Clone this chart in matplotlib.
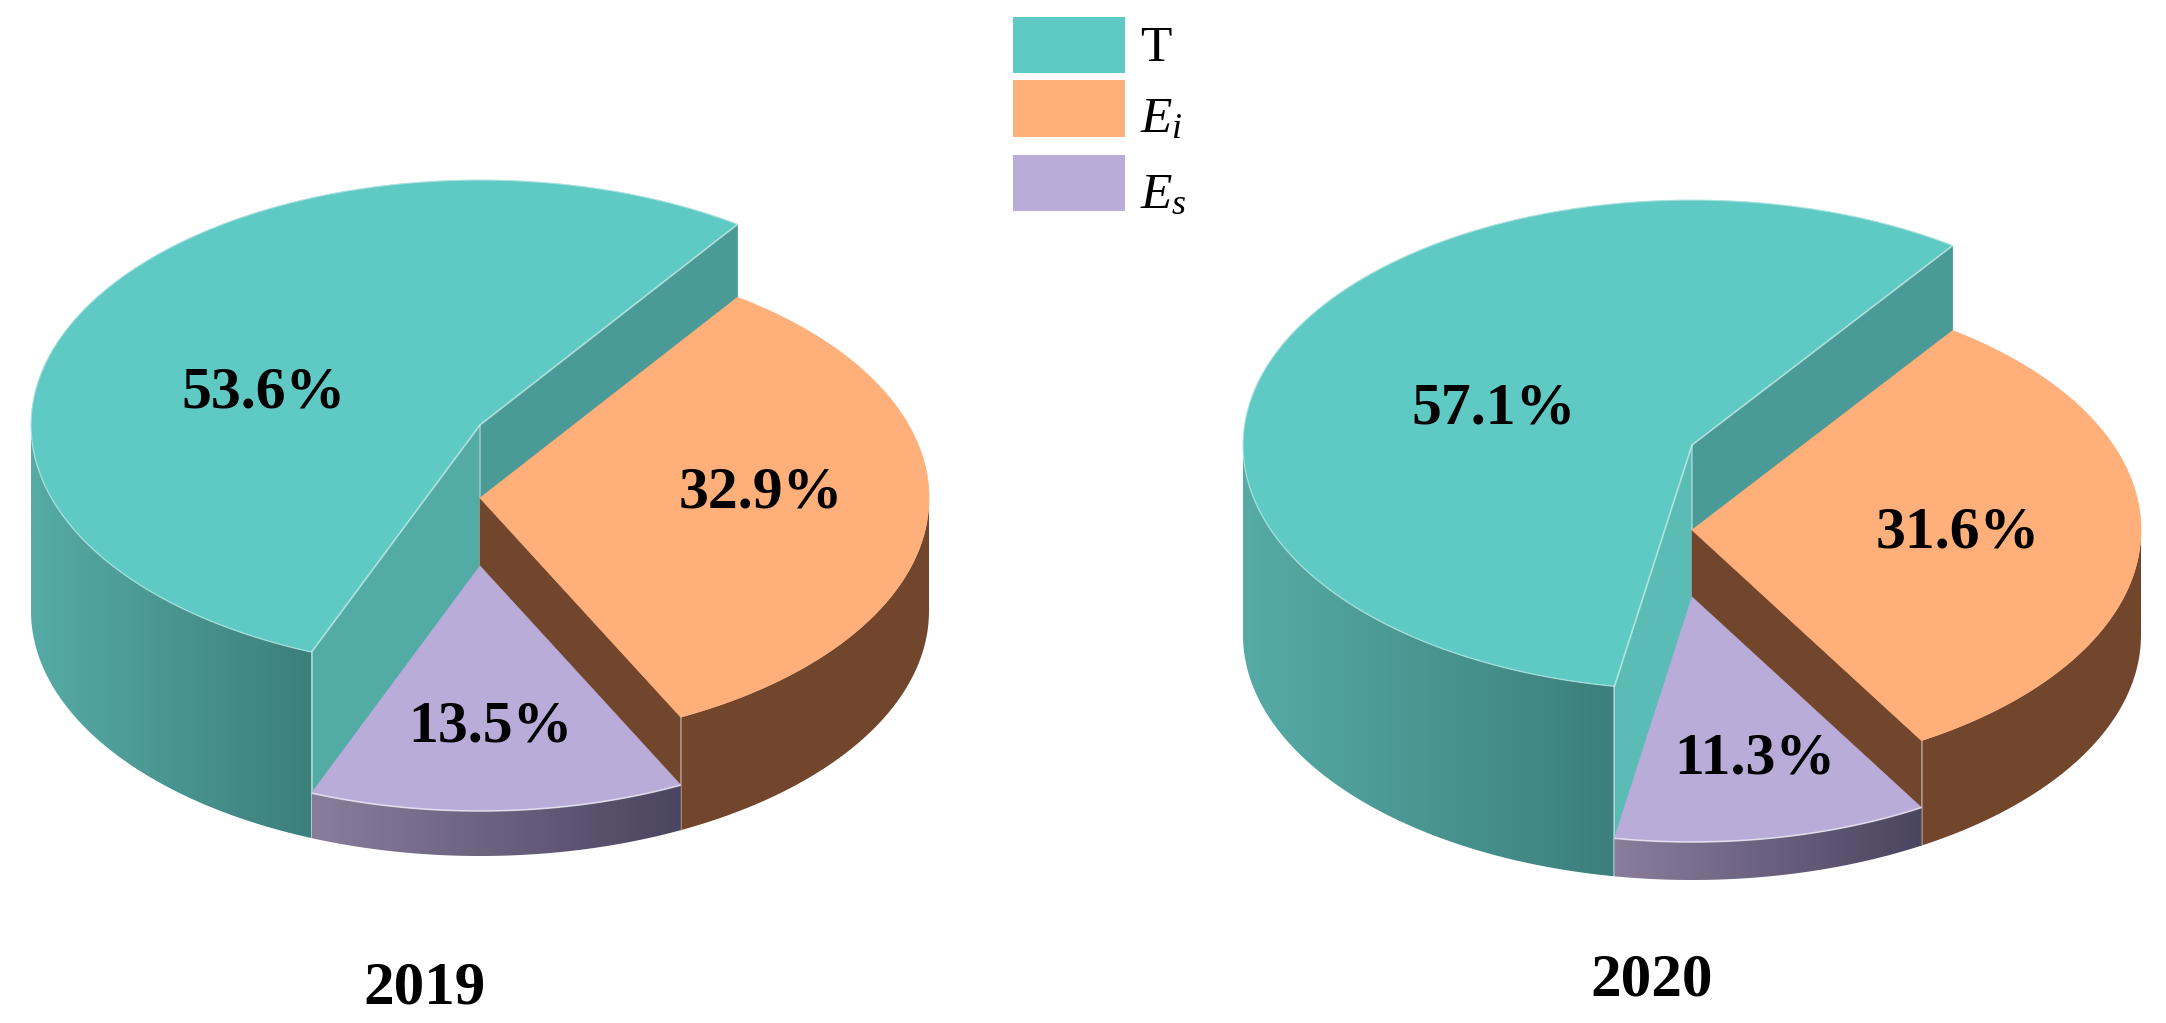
#!/usr/bin/env python3
import numpy as np
import matplotlib
matplotlib.use('Agg')
import matplotlib.pyplot as plt
from matplotlib.colors import LinearSegmentedColormap
from matplotlib.patches import Polygon, Rectangle

plt.rcParams['font.family'] = ['Liberation Serif', 'DejaVu Serif']
plt.rcParams['mathtext.fontset'] = 'custom'
plt.rcParams['mathtext.rm'] = 'Liberation Serif'
plt.rcParams['mathtext.it'] = 'Liberation Serif:italic'

# data
years = ['2019', '2020']
names = ['T', '$E_i$', '$E_s$']
share_2019 = [53.6, 32.9, 13.5]
share_2020 = [57.1, 31.6, 11.3]

# layout, in pixels of the 2166x1023 picture
RX, RY = 449, 245
centers_x = [480, 1692]
base_y = [611, 635]
heights_2019 = [186, 113, 45]
heights_2020 = [190, 105, 38]
end_angle_t = [35.0, 35.5]
label_xy_2019 = [(263, 394), (761, 494), (490, 728)]
label_xy_2020 = [(1494, 409), (1958, 533), (1755, 759)]
year_xy = [(424, 988), (1652, 981)]
legend_y = [(17, 73), (80, 137), (155, 211)]
legend_text_y = [49, 120, 196]

top_colors = ['#5FC9C4', '#FFAF7A', '#B9ACD9']
brown = '#72462C'
t_back = '#4A9A97'
t_front = ['#53ABA6', '#5ABCB5']
edge = '#FFFFFF'

fig = plt.figure(figsize=(21.66, 10.23), dpi=100)
ax = fig.add_axes([0, 0, 1, 1])
ax.axis('off')

z = [1]


def next_z():
    z[0] += 1
    return z[0]


def rim(cx, cy, a, b):
    # angles run clockwise from the top of the ellipse
    th = np.radians(np.linspace(a, b, 200))
    return cx + RX * np.sin(th), cy - RY * np.cos(th)


def flat(xs, ys, color):
    ax.add_patch(Polygon(np.column_stack([xs, ys]), closed=True, fc=color,
                         ec=color, lw=0.5, zorder=next_z()))


def wall(cx, cy, h, a, b, cols):
    # outer wall between two angles, shaded left to right
    x, y = rim(cx, cy, a, b)
    xs = np.r_[x, x[::-1]]
    ys = np.r_[y, y[::-1] + h]
    zz = next_z()
    poly = Polygon(np.column_stack([xs, ys]), closed=True, fc='none', ec='none',
                   zorder=zz)
    ax.add_patch(poly)
    cmap = LinearSegmentedColormap.from_list('w', cols)
    im = ax.imshow(np.linspace(0, 1, 256).reshape(1, -1), cmap=cmap, aspect='auto',
                   extent=[xs.min(), xs.max(), ys.max(), ys.min()], zorder=zz)
    im.set_clip_path(poly)


def line(xs, ys, alpha=0.5, lw=1.2):
    ax.plot(xs, ys, color=edge, alpha=alpha, lw=lw, zorder=next_z(),
            solid_capstyle='butt')


def draw_pie(i, shares, heights):
    cx, by = centers_x[i], base_y[i]
    th, ei, es = heights
    t_end = end_angle_t[i]
    t_start = t_end - shares[0] * 3.6 + 360
    i_end = t_end + shares[1] * 3.6

    # T: highest wedge
    cy = by - th
    x0, y0 = rim(cx, cy, t_end, t_end)
    x1, y1 = rim(cx, cy, t_start, t_start)
    flat([cx, x0[0], x0[0], cx], [cy, y0[0], y0[0] + th, cy + th], t_back)
    wall(cx, cy, th, t_start, 270, ['#56ABA6', '#3C7F7B'])
    flat([cx, x1[0], x1[0], cx], [cy, y1[0], y1[0] + th, cy + th], t_front[i])
    x, y = rim(cx, cy, t_start, t_end + 360)
    flat(np.r_[cx, x], np.r_[cy, y], top_colors[0])
    line(np.r_[x0[0], cx, x1[0]], np.r_[y0[0], cy, y1[0]])
    line(x, y, alpha=0.4, lw=1.0)
    line([x1[0], x1[0]], [y1[0], y1[0] + th])
    line([cx, cx], [cy, cy + th - es], alpha=0.4)

    # E_i: middle wedge
    cy = by - ei
    x2, y2 = rim(cx, cy, i_end, i_end)
    flat([cx, x2[0], x2[0], cx], [cy, y2[0], y2[0] + ei, cy + ei], brown)
    wall(cx, cy, ei, 90, i_end, [brown, brown])
    x, y = rim(cx, cy, t_end, i_end)
    flat(np.r_[cx, x], np.r_[cy, y], top_colors[1])
    line([x2[0], x2[0]], [y2[0], y2[0] + ei], alpha=0.4)

    # E_s: lowest wedge
    cy = by - es
    wall(cx, cy, es, i_end, t_start, ['#4A4560', '#8A7D9C'][::-1])
    x, y = rim(cx, cy, i_end, t_start)
    flat(np.r_[cx, x], np.r_[cy, y], top_colors[2])
    line(x, y, alpha=0.6, lw=1.2)


draw_pie(0, share_2019, heights_2019)
draw_pie(1, share_2020, heights_2020)

for shares, spots in [(share_2019, label_xy_2019), (share_2020, label_xy_2020)]:
    for v, (px, py) in zip(shares, spots):
        ax.text(px, py, f'{v:.1f}%', fontsize=43, fontweight='bold', color='black',
                ha='center', va='center', zorder=100)

for yr, (px, py) in zip(years, year_xy):
    ax.text(px, py, yr, fontsize=44, fontweight='bold', color='black',
            ha='center', va='center', zorder=100)

for nm, col, (y0, y1), ty in zip(names, top_colors, legend_y, legend_text_y):
    ax.add_patch(Rectangle((1013, y0), 112, y1 - y0, fc=col, ec='none', zorder=100))
    ax.text(1140, ty, nm, fontsize=37, color='black', ha='left', va='center', zorder=100)

ax.set_xlim(0, 2166)
ax.set_ylim(1023, 0)

fig.savefig('out.png', dpi=100, facecolor='white')
